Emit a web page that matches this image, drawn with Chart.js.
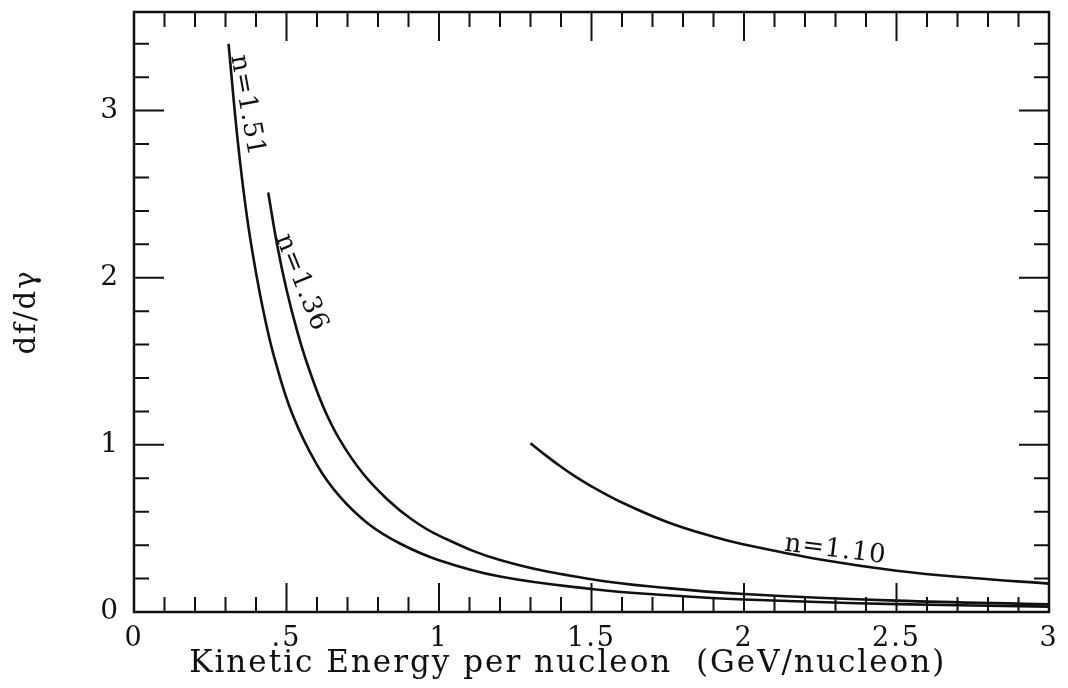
<!DOCTYPE html>
<html>
<head>
<meta charset="utf-8">
<script src="https://cdn.jsdelivr.net/npm/chart.js@4/dist/chart.umd.min.js"></script>
<style>
  html, body { margin: 0; padding: 0; background: #fff; }
  #wrap { width: 1068px; height: 688px; }
</style>
</head>
<body>
<div id="wrap"><canvas id="spectrumChart"></canvas></div>
<script>
// Curves (x: GeV/nucleon, y: df/dgamma)
var curve151 = [
    { x: 0.31, y: 3.40 }, { x: 0.34, y: 2.82 }, { x: 0.37, y: 2.37 },
    { x: 0.40, y: 2.03 }, { x: 0.43, y: 1.75 }, { x: 0.462, y: 1.51 },
    { x: 0.52, y: 1.18 }, { x: 0.60, y: 0.88 }, { x: 0.675, y: 0.69 },
    { x: 0.77, y: 0.525 }, { x: 0.872, y: 0.41 }, { x: 1.0, y: 0.31 },
    { x: 1.2, y: 0.212 }, { x: 1.5, y: 0.138 }, { x: 1.75, y: 0.10 },
    { x: 2.0, y: 0.075 }, { x: 2.5, y: 0.047 }, { x: 3.0, y: 0.032 }
];
var curve136 = [
    { x: 0.44, y: 2.51 }, { x: 0.47, y: 2.19 }, { x: 0.50, y: 1.93 },
    { x: 0.535, y: 1.68 }, { x: 0.567, y: 1.49 }, { x: 0.62, y: 1.23 },
    { x: 0.675, y: 1.03 }, { x: 0.75, y: 0.83 }, { x: 0.83, y: 0.675 },
    { x: 0.91, y: 0.555 }, { x: 1.0, y: 0.457 }, { x: 1.2, y: 0.311 },
    { x: 1.5, y: 0.196 }, { x: 1.75, y: 0.143 }, { x: 2.0, y: 0.108 },
    { x: 2.5, y: 0.068 }, { x: 3.0, y: 0.046 }
];
var curve110 = [
    { x: 1.30, y: 1.01 }, { x: 1.35, y: 0.937 }, { x: 1.40, y: 0.869 },
    { x: 1.45, y: 0.807 }, { x: 1.50, y: 0.752 }, { x: 1.60, y: 0.655 },
    { x: 1.75, y: 0.537 }, { x: 1.90, y: 0.45 }, { x: 2.0, y: 0.404 },
    { x: 2.25, y: 0.314 }, { x: 2.5, y: 0.247 }, { x: 2.75, y: 0.203 },
    { x: 3.0, y: 0.17 }
];

// Labels written next to each curve: text, anchor (data units), angle in degrees
var curveLabels = [
    { text: 'n=1.51', x: 0.370, y: 3.03, angle: 80 },
    { text: 'n=1.36', x: 0.548, y: 1.97, angle: 68 },
    { text: 'n=1.10', x: 2.30, y: 0.37, angle: 7 }
];

var xTickLabels = ['0', '.5', '1', '1.5', '2', '2.5', '3'];
var yTickLabels = ['0', '1', '2', '3'];

var serif = '"DejaVu Serif", "Liberation Serif", serif';

// Inward ticks on all four sides, the frame and the curve labels
var framePlugin = {
    id: 'frame',
    beforeDraw: function(chart) {
        chart.ctx.letterSpacing = '2px';
    },
    afterDatasetsDraw: function(chart) {
        var ctx = chart.ctx, a = chart.chartArea;
        var x = chart.scales.x, y = chart.scales.y;
        ctx.save();
        ctx.strokeStyle = '#111';
        ctx.lineWidth = 2.5;
        ctx.strokeRect(a.left, a.top, a.right - a.left, a.bottom - a.top);
        ctx.lineWidth = 2;
        ctx.beginPath();
        for (var i = 1; i < 30; i++) {
            var px = x.getPixelForValue(i / 10);
            var len = i % 5 === 0 ? 29 : 15;
            ctx.moveTo(px, a.bottom); ctx.lineTo(px, a.bottom - len);
            ctx.moveTo(px, a.top); ctx.lineTo(px, a.top + len);
        }
        for (var j = 1; j * 0.2 < y.max; j++) {
            var py = y.getPixelForValue(j * 0.2);
            var l2 = j % 5 === 0 ? 30 : 15;
            ctx.moveTo(a.left, py); ctx.lineTo(a.left + l2, py);
            ctx.moveTo(a.right, py); ctx.lineTo(a.right - l2, py);
        }
        ctx.stroke();

        ctx.fillStyle = '#111';
        ctx.letterSpacing = '1px';
        ctx.font = '26px ' + serif;
        ctx.textAlign = 'center';
        ctx.textBaseline = 'middle';
        curveLabels.forEach(function(lb) {
            ctx.save();
            ctx.translate(x.getPixelForValue(lb.x), y.getPixelForValue(lb.y));
            ctx.rotate(lb.angle * Math.PI / 180);
            ctx.fillText(lb.text, 0, 0);
            ctx.restore();
        });
        ctx.restore();
    }
};

function lineSet(points) {
    return {
        data: points,
        borderColor: '#111',
        borderWidth: 2.6,
        pointRadius: 0,
        fill: false,
        tension: 0.4
    };
}

var ctx = document.getElementById('spectrumChart').getContext('2d');
var spectrumChart = new Chart(ctx, {
    type: 'line',
    data: {
        datasets: [lineSet(curve151), lineSet(curve136), lineSet(curve110)]
    },
    options: {
        responsive: true,
        maintainAspectRatio: false,
        animation: false,
        layout: { padding: { top: 12, right: 19, left: 0, bottom: 0 } },
        plugins: { legend: { display: false }, tooltip: { enabled: false } },
        scales: {
            x: {
                type: 'linear',
                min: 0,
                max: 3,
                grid: { display: false, drawTicks: false },
                border: { display: false },
                afterFit: function(scale) {
                    scale.height = 76;
                    scale.paddingLeft = 0;
                    scale.paddingRight = 0;
                },
                ticks: {
                    stepSize: 0.1,
                    autoSkip: false,
                    maxRotation: 0,
                    padding: 11,
                    color: '#111',
                    font: { family: serif, size: 27 },
                    callback: function(v) {
                        var k = Math.round(v * 2);
                        return Math.abs(v * 2 - k) < 1e-6 ? xTickLabels[k] : '';
                    }
                },
                title: {
                    display: true,
                    text: 'Kinetic Energy per nucleon  (GeV/nucleon)    ',
                    color: '#111',
                    font: { family: serif, size: 31 },
                    padding: { top: 0, bottom: 5 }
                }
            },
            y: {
                type: 'linear',
                min: 0,
                max: 3.59,
                grid: { display: false, drawTicks: false },
                border: { display: false },
                afterFit: function(scale) {
                    scale.width = 134;
                    scale.paddingTop = 0;
                    scale.paddingBottom = 0;
                },
                ticks: {
                    stepSize: 0.2,
                    includeBounds: false,
                    autoSkip: false,
                    padding: 14,
                    color: '#111',
                    font: { family: serif, size: 28 },
                    callback: function(v) {
                        var k = Math.round(v);
                        return Math.abs(v - k) < 1e-6 ? yTickLabels[k] : '';
                    }
                },
                title: {
                    display: true,
                    text: 'df/dγ',
                    color: '#111',
                    font: { family: serif, size: 29 },
                    padding: { top: 10, bottom: 0 }
                }
            }
        }
    },
    plugins: [framePlugin]
});
</script>
</body>
</html>
